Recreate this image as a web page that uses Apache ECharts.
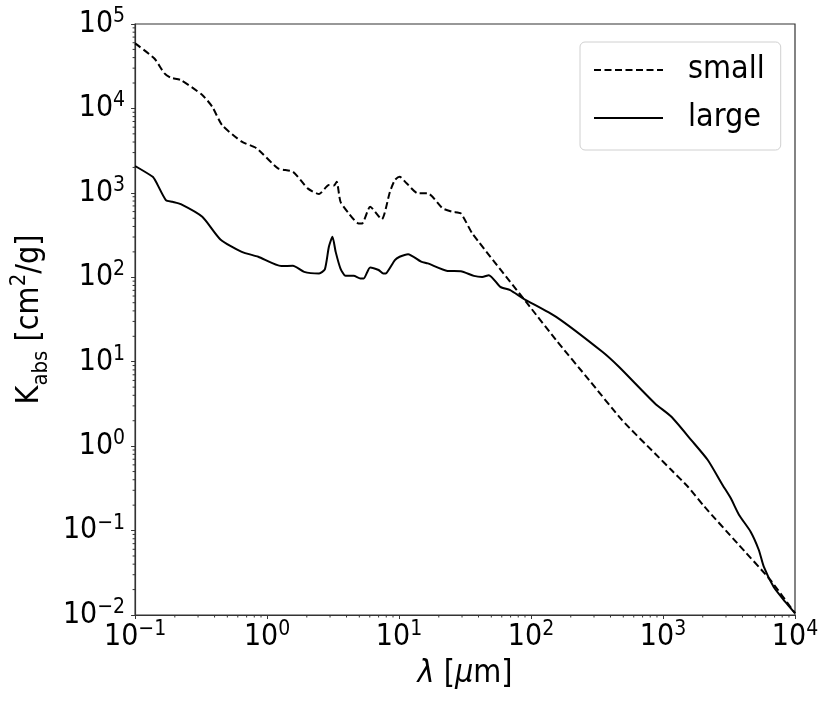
<!DOCTYPE html>
<html>
<head>
<meta charset="utf-8">
<script src="https://cdn.jsdelivr.net/npm/echarts@6/dist/echarts.min.js"></script>
<style>
  html, body { margin: 0; padding: 0; background: #fff; }
  #chart { width: 831px; height: 709px; }
</style>
</head>
<body>
<div id="chart"></div>
<script>
// absorption opacity of small vs large grains
const smallX = [0.1, 0.14, 0.167, 0.187, 0.222, 0.323, 0.384, 0.456, 0.643, 0.834, 1.21, 1.57, 2.03, 2.48, 2.94, 3.21, 3.37, 3.6, 4.16, 4.94, 5.24, 6.04, 7.39, 8.53, 9.3, 10.1, 11.4, 13.9, 16.5, 21.4, 25.4, 29.4, 35.9, 98, 155, 276, 490, 869, 1158, 1545, 2060, 3660, 6500, 10000];
const smallY = [59000, 39000, 26000, 23100, 21700, 14400, 10500, 6350, 4040, 3370, 1950, 1780, 1130, 968, 1236, 1220, 1355, 785, 571, 434, 434, 684, 486, 1030, 1420, 1550, 1300, 986, 986, 655, 597, 571, 331, 44.8, 18.0, 6.05, 2.03, 0.818, 0.521, 0.33, 0.192, 0.0706, 0.026, 0.0105];

const largeX = [0.1, 0.136, 0.144, 0.171, 0.192, 0.222, 0.323, 0.443, 0.643, 0.857, 1.28, 1.57, 1.91, 2.48, 2.74, 2.94, 3.13, 3.31, 3.6, 3.93, 4.53, 5.09, 5.4, 6.04, 7.0, 7.6, 8.0, 9.3, 10.1, 11.7, 14.7, 16.5, 23.3, 29.4, 36.9, 42.6, 47.9, 58.5, 69.5, 87.5, 155, 347, 463, 869, 1158, 1637, 2183, 2826, 3264, 3770, 4610, 5320, 5800, 6880, 8410, 10000];
const largeY = [2080, 1550, 1355, 822, 785, 736, 521, 281, 200, 175, 136, 137, 116, 111, 124, 230, 302, 200, 127, 104, 104, 97, 97, 131, 122, 111, 112, 160, 175, 188, 153, 146, 119, 118, 104, 101, 106, 77.1, 70.4, 56, 34, 13.1, 8.7, 3.2, 2.23, 1.18, 0.685, 0.347, 0.241, 0.153, 0.097, 0.0589, 0.0373, 0.0216, 0.0144, 0.0105];

// decade exponents used for the major tick labels
const xDecades = [-1, 0, 1, 2, 3, 4];
const yDecades = [-2, -1, 0, 1, 2, 3, 4, 5];

const FONT = '"DejaVu Sans Condensed", "DejaVu Sans", sans-serif';
const AXIS = '#333';

const xMin = Math.pow(10, xDecades[0]);
const xMax = Math.pow(10, xDecades[xDecades.length - 1]);
const yMin = Math.pow(10, yDecades[0]);
const yMax = Math.pow(10, yDecades[yDecades.length - 1]);

// matplotlib style minor ticks: 2..9 x 10^n inside each decade
function minorValues(decades) {
  const out = [];
  for (let i = 0; i < decades.length - 1; i++) {
    for (let m = 2; m <= 9; m++) out.push(m * Math.pow(10, decades[i]));
  }
  return out;
}

const pairs = (xs, ys) => xs.map((x, i) => [x, ys[i]]);

function powLabel(v) {
  const e = Math.round(Math.log10(v));
  const s = e < 0 ? '\u2212' + (-e) : String(e);
  return '{b|10}{s|' + s + '}';
}

const tickRich = {
  b: { fontFamily: FONT, fontSize: 30, lineHeight: 36, color: '#000' },
  s: { fontFamily: FONT, fontSize: 21, lineHeight: 20, verticalAlign: 'top', color: '#000' }
};

const chart = echarts.init(document.getElementById('chart'));

chart.setOption({
  animation: false,
  backgroundColor: '#fff',
  grid: {
    left: 127, right: 36, top: 24, bottom: 94,
    show: true, borderColor: AXIS, borderWidth: 1.2, backgroundColor: 'transparent'
  },
  legend: {
    data: ['small', 'large'],
    orient: 'vertical',
    left: 580, top: 42,
    itemWidth: 69, itemHeight: 14, itemGap: 12,
    padding: [10, 16, 14, 13],
    backgroundColor: '#fff',
    borderColor: '#d0d0d0', borderWidth: 1, borderRadius: 5,
    // hide the marker dot, keep only the line sample
    itemStyle: { color: 'rgba(0,0,0,0)', borderColor: 'rgba(0,0,0,0)', borderWidth: 0 },
    textStyle: { fontFamily: FONT, fontSize: 32, lineHeight: 36, color: '#000', padding: [0, 0, 0, 20] }
  },
  xAxis: {
    type: 'log', logBase: 10, min: xMin, max: xMax, splitNumber: xDecades.length - 1,
    name: '{i|\u03bb}{b| [}{i|\u03bc}{b|m]}',
    nameLocation: 'middle', nameGap: 40,
    nameTextStyle: {
      rich: {
        b: { fontFamily: FONT, fontSize: 32, lineHeight: 38, color: '#000' },
        i: { fontFamily: FONT, fontSize: 32, lineHeight: 38, fontStyle: 'italic', color: '#000' }
      }
    },
    axisLine: { show: true, lineStyle: { color: AXIS, width: 1.2 } },
    axisTick: { show: true, length: 4, lineStyle: { color: AXIS, width: 1 } },
    axisLabel: { interval: 0, margin: 4, formatter: powLabel, rich: tickRich },
    splitLine: { show: false }
  },
  yAxis: {
    type: 'log', logBase: 10, min: yMin, max: yMax, splitNumber: yDecades.length - 1,
    name: '{b|K}{sub|abs}{b| [cm}{sup|2}{b|/g]}',
    nameLocation: 'middle', nameRotate: 90, nameGap: 72,
    nameTextStyle: {
      rich: {
        b: { fontFamily: FONT, fontSize: 32, lineHeight: 44, color: '#000' },
        sub: { fontFamily: FONT, fontSize: 22, lineHeight: 22, verticalAlign: 'bottom', color: '#000' },
        sup: { fontFamily: FONT, fontSize: 22, lineHeight: 22, verticalAlign: 'top', color: '#000' }
      }
    },
    axisLine: { show: true, lineStyle: { color: AXIS, width: 1.2 } },
    axisTick: { show: true, length: 4, lineStyle: { color: AXIS, width: 1 } },
    axisLabel: { interval: 0, margin: 10, formatter: powLabel, rich: tickRich },
    splitLine: { show: false }
  },
  series: [
    {
      name: 'small', type: 'line', data: pairs(smallX, smallY),
      symbol: 'none', smooth: 0.2,
      lineStyle: { color: '#000', width: 2, type: [7, 3.5] },
      itemStyle: { color: '#000' }
    },
    {
      name: 'large', type: 'line', data: pairs(largeX, largeY),
      symbol: 'none', smooth: 0.2,
      lineStyle: { color: '#000', width: 2, type: 'solid' },
      itemStyle: { color: '#000' }
    },
    {
      // minor ticks along the bottom axis
      type: 'custom', silent: true, clip: false, z: 5,
      data: minorValues(xDecades).map(v => [v, yMin]),
      renderItem: (params, api) => {
        const p = api.coord([api.value(0), api.value(1)]);
        return { type: 'line', shape: { x1: p[0], y1: p[1], x2: p[0], y2: p[1] + 2.5 },
                 style: { stroke: AXIS, lineWidth: 1 } };
      }
    },
    {
      // minor ticks along the left axis
      type: 'custom', silent: true, clip: false, z: 5,
      data: minorValues(yDecades).map(v => [xMin, v]),
      renderItem: (params, api) => {
        const p = api.coord([api.value(0), api.value(1)]);
        return { type: 'line', shape: { x1: p[0], y1: p[1], x2: p[0] - 2.5, y2: p[1] },
                 style: { stroke: AXIS, lineWidth: 1 } };
      }
    }
  ]
});
</script>
</body>
</html>
